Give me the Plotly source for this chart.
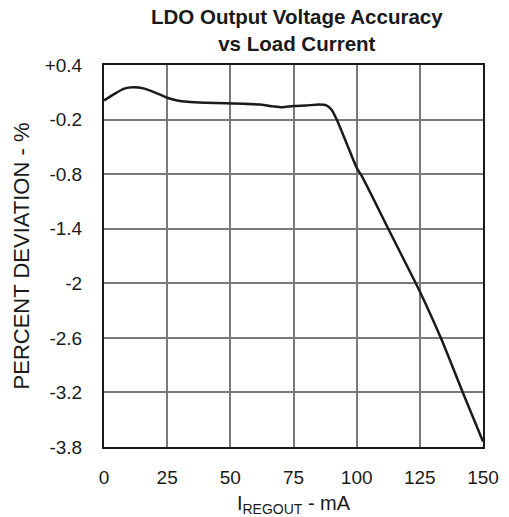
import plotly.graph_objects as go

# Load current (mA) and output voltage deviation (%)
load_ma = [0, 4, 8, 11.6, 16, 20, 25, 29, 33, 40, 48, 55, 62, 67, 70.5, 75, 80, 85, 88, 90,
           92.1, 96, 100, 102, 112.5, 123.4, 125, 133.3, 142, 150]
deviation_pct = [0.01, 0.08, 0.14, 0.155, 0.14, 0.1, 0.04, 0.01, -0.005, -0.015, -0.02, -0.025,
                 -0.035, -0.055, -0.065, -0.05, -0.045, -0.035, -0.045, -0.09,
                 -0.2, -0.46, -0.73, -0.82, -1.4, -2.0, -2.09, -2.6, -3.2, -3.74]

x_ticks = [0, 25, 50, 75, 100, 125, 150]
y_ticks = [0.4, -0.2, -0.8, -1.4, -2.0, -2.6, -3.2, -3.8]
y_tick_text = ["+0.4", "-0.2", "-0.8", "-1.4", "-2", "-2.6", "-3.2", "-3.8"]

FONT = "Liberation Sans, Arial, sans-serif"
TEXT = "#1a1a1a"

fig = go.Figure()
fig.add_trace(go.Scatter(
    x=load_ma, y=deviation_pct, mode="lines",
    line=dict(color="#1a1a1a", width=2.5, shape="spline", smoothing=0.6),
    hoverinfo="skip", showlegend=False,
))

# Two-line bold heading above the plot frame
fig.add_annotation(
    text="<b>LDO Output Voltage Accuracy<br>vs Load Current</b>",
    xref="paper", yref="paper", x=0.51, y=1, xanchor="center", yanchor="bottom",
    yshift=8, showarrow=False, align="center",
    font=dict(family=FONT, size=20.5, color=TEXT),
)

fig.update_layout(
    width=509, height=517,
    margin=dict(l=104, r=26, t=65, b=70, autoexpand=False),
    paper_bgcolor="white", plot_bgcolor="white",
    font=dict(family=FONT, size=19, color=TEXT),
    xaxis=dict(
        range=[0, 150], tickvals=x_ticks, ticks="", ticklabelstandoff=12,
        tickfont=dict(size=19), automargin=False,
        showgrid=True, gridcolor="#7a7a7a", gridwidth=1.5,
        showline=True, mirror=True, linecolor="#1a1a1a", linewidth=2,
        zeroline=False,
        title=dict(text="I<sub>REGOUT</sub> - mA", standoff=12,
                   font=dict(family=FONT, size=20, color=TEXT)),
    ),
    yaxis=dict(
        range=[-3.8, 0.4], tickvals=y_ticks, ticktext=y_tick_text, ticks="",
        ticklabelstandoff=16, tickfont=dict(size=19), automargin=False,
        showgrid=True, gridcolor="#7a7a7a", gridwidth=1.5,
        showline=True, mirror=True, linecolor="#1a1a1a", linewidth=2,
        zeroline=False,
        title=dict(text="PERCENT DEVIATION - %", standoff=9,
                   font=dict(family=FONT, size=22, color=TEXT)),
    ),
)

fig.write_html("out.html")
